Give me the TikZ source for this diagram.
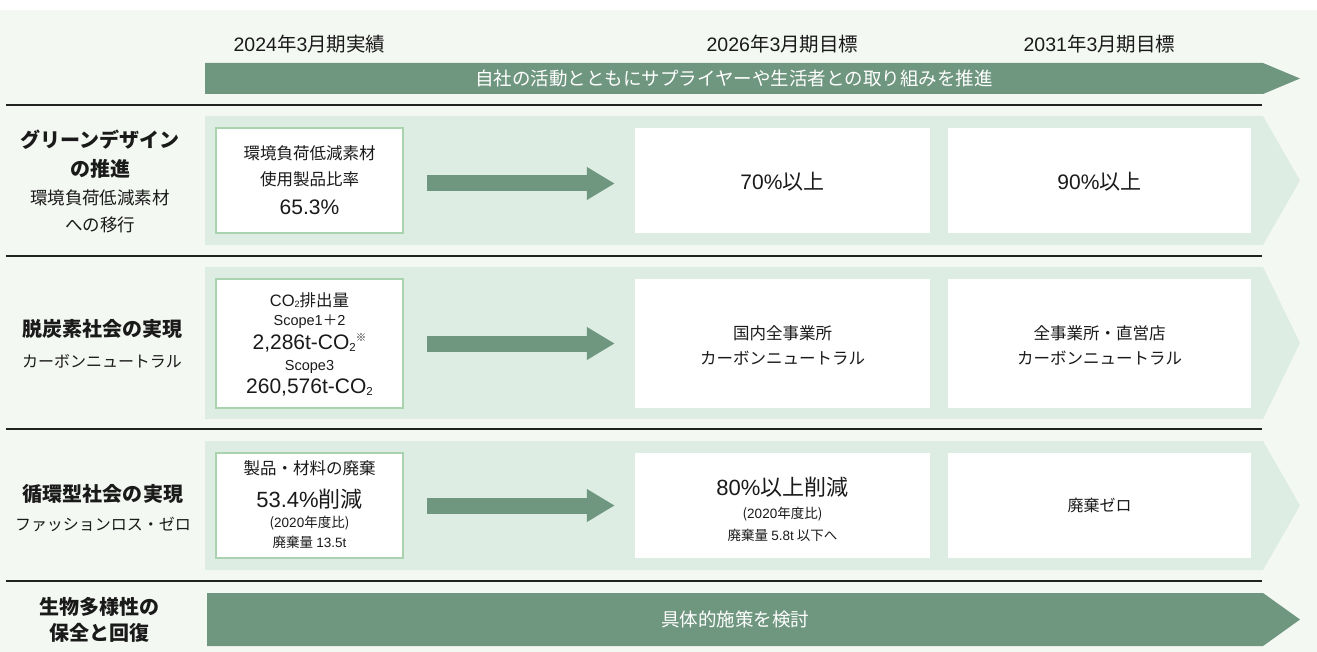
\documentclass[tikz,border=0pt]{standalone}
\usepackage{fontspec}
\usepackage{graphicx}
\setmainfont{Noto Sans CJK JP}
\newfontfamily\lat{Liberation Sans}
\newfontfamily\cjkmain{Noto Sans CJK JP}
\usetikzlibrary{arrows.meta}
\definecolor{bgc}{HTML}{F4F8F3}
\definecolor{bandc}{HTML}{DDEDE3}
\definecolor{darkg}{HTML}{6F967F}
\definecolor{boxedge}{HTML}{A9D2AE}
\definecolor{linec}{HTML}{222222}
\definecolor{txt}{HTML}{1A1A1A}
\newcommand{\fsz}[1]{\fontsize{#1pt}{#1pt}\selectfont}
\newcommand{\subtwo}{\raisebox{-0.12ex}{\scalebox{0.55}{\lat 2}}}
\newcommand{\kome}{\raisebox{0.75ex}{\scalebox{0.5}{\cjkmain ※}}}
\tikzset{
  t/.style={inner sep=0pt, text=txt, align=center},
  hdr/.style={t, font=\fsz{19.5}},
  ttl/.style={t, font=\fsz{20}\bfseries},
  subk/.style={t, font=\fsz{17.5}},
  sub/.style={t, font=\fsz{16}},
  lbl/.style={t, font=\fsz{16.5}},
  small/.style={t, font=\fsz{13.5}},
  big/.style={t, font=\fsz{21}},
  tgt/.style={t, font=\fsz{21}},
  tgtm/.style={t, font=\fsz{16.5}},
  wtxt/.style={inner sep=0pt, text=white, font=\fsz{18.5}},
  curbox/.style={draw=boxedge, line width=1.3pt, fill=white, inner sep=0pt, minimum width=187pt},
  tgtbox/.style={fill=white, inner sep=0pt},
  sep/.style={draw=linec, line width=1.3pt},
  flow/.style={draw=darkg, line width=16pt, -{Triangle[length=28pt,width=31pt]}},
}
\begin{document}
\begin{tikzpicture}[x=1pt,y=-1pt]
\useasboundingbox (0,0) rectangle (1317,652);
\fill[white] (0,0) rectangle (1317,652);
\fill[bgc] (0,10) rectangle (1317,652);

% headers
\node[hdr] (h1) at (309.5,44) {{\lat 2024}年{\lat 3}月期実績};
\node[hdr] (h2) at (782.5,44) {{\lat 2026}年{\lat 3}月期目標};
\node[hdr] (h3) at (1099.5,44) {{\lat 2031}年{\lat 3}月期目標};

% top banner
\fill[darkg] (205,63) -- (1263,63) -- (1300,78.5) -- (1263,94) -- (205,94) -- cycle;
\node[wtxt] (topt) at (734,78.5) {自社の活動とともにサプライヤーや生活者との取り組みを推進};

% separators
\draw[sep] (6,105) -- (1262,105);
\draw[sep] (6,256) -- (1262,256);
\draw[sep] (6,429) -- (1262,429);
\draw[sep] (6,581) -- (1262,581);

% bands
\fill[bandc] (205,116) -- (1263,116) -- (1300,180.5) -- (1263,245) -- (205,245) -- cycle;
\fill[bandc] (205,267) -- (1263,267) -- (1300,343) -- (1263,419) -- (205,419) -- cycle;
\fill[bandc] (205,441) -- (1263,441) -- (1300,505.5) -- (1263,570) -- (205,570) -- cycle;

% bottom banner
\fill[darkg] (207,593) -- (1263,593) -- (1300,619.5) -- (1263,646) -- (207,646) -- cycle;
\node[wtxt] (bott) at (735,619.5) {具体的施策を検討};

% ---------- row 1
\node[ttl] (l1a) at (100,140) {グリーンデザイン};
\node[ttl] (l1b) at (100,169) {の推進};
\node[subk] (l1c) at (100,198) {環境負荷低減素材};
\node[subk] (l1d) at (100,225) {への移行};

\node[curbox, minimum height=105pt] (c1) at (309.5,180.5) {};
\node[lbl] (c1a) at (309.5,153) {環境負荷低減素材};
\node[lbl] (c1b) at (309.5,179) {使用製品比率};
\node[big] (c1c) at (309.5,207) {\lat 65.3\%};

\node[tgtbox, minimum width=295pt, minimum height=105pt] (m1) at (782.5,180.5) {};
\node[tgt] (m1t) at (782.5,182) {{\lat 70\%}以上};
\node[tgtbox, minimum width=303pt, minimum height=105pt] (r1) at (1099.5,180.5) {};
\node[tgt] (r1t) at (1099.5,182) {{\lat 90\%}以上};
\draw[flow] ([shift={(23pt,-3pt)}]c1.east) -- ([shift={(-20pt,-3pt)}]m1.west);

% ---------- row 2
\node[ttl] (l2a) at (102,329) {脱炭素社会の実現};
\node[sub] (l2b) at (102,361) {カーボンニュートラル};

\node[curbox, minimum height=129pt] (c2) at (309.5,343.5) {};
\node[lbl] (c2a) at (309.5,300) {{\lat CO}\subtwo 排出量};
\node[small, font=\fsz{14.5}] (c2b) at (309.5,322) {{\lat Scope1}＋{\lat 2}};
\node[big] (c2c) at (309.5,343) {{\lat 2,286t-CO}\subtwo\kome};
\node[small, font=\fsz{14.5}] (c2d) at (309.5,367) {\lat Scope3};
\node[big] (c2e) at (309.5,388) {{\lat 260,576t-CO}\subtwo};

\node[tgtbox, minimum width=295pt, minimum height=129pt] (m2) at (782.5,343.5) {};
\node[tgtm] (m2a) at (782.5,333) {国内全事業所};
\node[tgtm] (m2b) at (782.5,358) {カーボンニュートラル};
\node[tgtbox, minimum width=303pt, minimum height=129pt] (r2) at (1099.5,343.5) {};
\node[tgtm] (r2a) at (1099.5,333) {全事業所・直営店};
\node[tgtm] (r2b) at (1099.5,358) {カーボンニュートラル};
\draw[flow] ([shift={(23pt,0pt)}]c2.east) -- ([shift={(-20pt,0pt)}]m2.west);

% ---------- row 3
\node[ttl] (l3a) at (103,494) {循環型社会の実現};
\node[sub] (l3b) at (103,524) {ファッションロス・ゼロ};

\node[curbox, minimum height=105pt] (c3) at (309.5,505.5) {};
\node[lbl] (c3a) at (309.5,468) {製品・材料の廃棄};
\node[big, font=\fsz{22}] (c3b) at (309.5,499) {{\lat 53.4\%}削減};
\node[small] (c3c) at (309.5,523) {({\lat 2020}年度比)};
\node[small] (c3d) at (309.5,542) {廃棄量 {\lat 13.5t}};

\node[tgtbox, minimum width=295pt, minimum height=105pt] (m3) at (782.5,505.5) {};
\node[tgt, font=\fsz{22}] (m3a) at (782.5,487) {{\lat 80\%}以上削減};
\node[small] (m3b) at (782.5,514) {({\lat 2020}年度比)};
\node[small] (m3c) at (782.5,535) {廃棄量 {\lat 5.8t} 以下へ};
\node[tgtbox, minimum width=303pt, minimum height=105pt] (r3) at (1099.5,505.5) {};
\node[tgtm, font=\fsz{16}] (r3t) at (1099.5,505) {廃棄ゼロ};
\draw[flow] ([shift={(23pt,0pt)}]c3.east) -- ([shift={(-20pt,0pt)}]m3.west);

% ---------- row 4
\node[ttl] (l4a) at (99,607) {生物多様性の};
\node[ttl] (l4b) at (99,633) {保全と回復};
\end{tikzpicture}
\end{document}
